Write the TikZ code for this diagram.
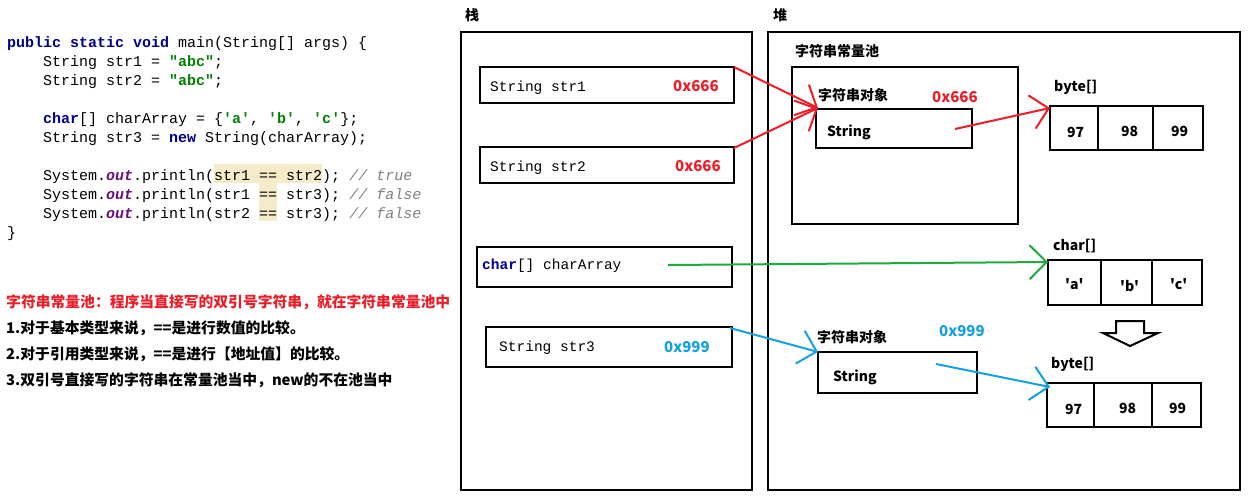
\documentclass[tikz,border=0pt]{standalone}
\usepackage{fontspec}
\setmainfont{Liberation Sans}
\setmonofont{Liberation Mono}
\newfontfamily\cjk{Noto Sans CJK SC}
\usetikzlibrary{arrows.meta}
\definecolor{kw}{RGB}{0,0,140}
\definecolor{strg}{RGB}{0,128,0}
\definecolor{outc}{RGB}{102,14,122}
\definecolor{cmt}{RGB}{128,128,128}
\definecolor{hl}{RGB}{245,235,200}
\definecolor{ared}{RGB}{235,30,40}
\definecolor{agreen}{RGB}{30,170,60}
\definecolor{ablue}{RGB}{20,160,225}
\begin{document}
\begin{tikzpicture}[x=1pt,y=-1pt,
  code/.style={anchor=base west,inner sep=0,font=\ttfamily\fontsize{15}{16}\selectfont},
  cn/.style={anchor=base west,inner sep=0,font=\cjk\bfseries\fontsize{14.8}{16}\selectfont},
  box/.style={draw,line width=2.2pt},
  mono/.style={anchor=base west,inner sep=0,font=\ttfamily\fontsize{14.5}{16}\selectfont},
  addr/.style={anchor=base west,inner sep=0,font=\cjk\bfseries\fontsize{15}{16}\selectfont},
  lab/.style={anchor=base west,inner sep=0,font=\cjk\bfseries\fontsize{14}{16}\selectfont},
  arr/.style={line width=2pt,-{Straight Barb[length=17pt,width=34pt,line width=2pt]}}]
\useasboundingbox (0,0) rectangle (1252,496);
\fill[white] (0,0) rectangle (1252,496);
% highlights
\fill[hl] (214,164) rectangle (322,183);
\fill[hl] (259,183) rectangle (277,221);
% code
\def\K#1{{\bfseries\color{kw}#1}}
\def\S#1{{\bfseries\color{strg}#1}}
\def\O{{\bfseries\itshape\color{outc}out}}
\def\C#1{{\itshape\color{cmt}#1}}
\node[code] (c1) at (7,47) {\K{public} \K{static} \K{void} main(String[] args) \{};
\node[code] (c2) at (7,66) {\ \ \ \ String str1 = \S{"abc"};};
\node[code] (c3) at (7,85) {\ \ \ \ String str2 = \S{"abc"};};
\node[code] (c4) at (7,123) {\ \ \ \ \K{char}[] charArray = \{\S{'a'}, \S{'b'}, \S{'c'}\};};
\node[code] (c5) at (7,142) {\ \ \ \ String str3 = \K{new} String(charArray);};
\node[code] (c6) at (7,180) {\ \ \ \ System.\O.println(str1 == str2); \C{// true}};
\node[code] (c7) at (7,199) {\ \ \ \ System.\O.println(str1 == str3); \C{// false}};
\node[code] (c8) at (7,218) {\ \ \ \ System.\O.println(str2 == str3); \C{// false}};
\node[code] (c9) at (7,237) {\}};
% notes
\node[cn,text=ared] (n0) at (6,307) {字符串常量池：程序当直接写的双引号字符串，就在字符串常量池中};
\node[cn] (n1) at (6,333) {1.对于基本类型来说，==是进行数值的比较。};
\node[cn] (n2) at (6,359) {2.对于引用类型来说，==是进行【地址值】的比较。};
\node[cn] (n3) at (6,385) {3.双引号直接写的字符串在常量池当中，new的不在池当中};
% stack / heap
\node[lab] (zh) at (465,20) {栈};
\node[lab] (dh) at (773,20) {堆};
\draw[box] (461,32) rectangle (752,490);
\draw[box] (768,32) rectangle (1240,490);
% stack items
\draw[box] (480,67) rectangle (734,103);
\node[mono] (s1) at (490,91) {String str1};
\node[addr,text=ared] (a1) at (673,91) {0x666};
\draw[box] (480,147) rectangle (734,183);
\node[mono] (s2) at (490,171) {String str2};
\node[addr,text=ared] (a2) at (675,171) {0x666};
\draw[box] (477,247) rectangle (732,287);
\node[mono] (s3) at (482,269) {\K{char}[] charArray};
\draw[box] (486,327) rectangle (732,367);
\node[mono] (s4) at (499,351) {String str3};
\node[addr,text=ablue] (a4) at (664,352) {0x999};
% pool
\node[lab] (pl) at (795,56) {字符串常量池};
\draw[box] (792,67) rectangle (1018,224);
\node[lab] (o1) at (818,100) {字符串对象};
\node[addr,text=ared] (o1a) at (932,102) {0x666};
\draw[box] (816,109) rectangle (972,148);
\node[lab] (o1s) at (827,136) {String};
% byte array 1
\node[lab] (b1l) at (1054,91) {byte[]};
\draw[box] (1050,106) rectangle (1203,150);
\draw[box] (1098,106) -- (1098,150) (1153,106) -- (1153,150);
\node[lab] (b11) at (1067,137) {97};
\node[lab] (b12) at (1121,136) {98};
\node[lab] (b13) at (1171,136) {99};
% char array
\node[lab] (cal) at (1053,250) {char[]};
\draw[box] (1048,260) rectangle (1202,305);
\draw[box] (1101,260) -- (1101,305) (1152,260) -- (1152,305);
\node[lab] (ca1) at (1065,289) {'a'};
\node[lab] (ca2) at (1120,291) {'b'};
\node[lab] (ca3) at (1170,289) {'c'};
% hollow arrow
\draw[line width=2pt,fill=white] (1116,321) -- (1144,321) -- (1144,333) -- (1158,333) -- (1130,346) -- (1103,333) -- (1116,333) -- cycle;
% object 2
\node[lab] (o2) at (817,342) {字符串对象};
\node[addr,text=ablue] (o2a) at (939,336) {0x999};
\draw[box] (818,352) rectangle (977,393);
\node[lab] (o2s) at (833,381) {String};
% byte array 2
\node[lab] (b2l) at (1051,368) {byte[]};
\draw[box] (1047,383) rectangle (1201,427);
\draw[box] (1094,383) -- (1094,427) (1152,383) -- (1152,427);
\node[lab] (b21) at (1065,414) {97};
\node[lab] (b22) at (1119,413) {98};
\node[lab] (b23) at (1169,413) {99};
% arrow endpoints
\coordinate (p1) at (734,67);
\coordinate (p2) at (734,148);
\coordinate (t1) at (818,108);
\coordinate (q1) at (955,129);
\coordinate (t2) at (1050,108);
\coordinate (g0) at (668,265);
\coordinate (g1) at (1048,262);
\coordinate (u0) at (730,328);
\coordinate (u1) at (818,352);
\coordinate (v0) at (936,364);
\coordinate (v1) at (1050,387);
\draw[arr,ared] (p1) -- (t1);
\draw[arr,ared] (p2) -- (t1);
\draw[arr,ared] (q1) -- (t2);
\draw[arr,agreen] (g0) -- (g1);
\draw[arr,ablue] (u0) -- (u1);
\draw[arr,ablue] (v0) -- (v1);
\end{tikzpicture}
\end{document}
